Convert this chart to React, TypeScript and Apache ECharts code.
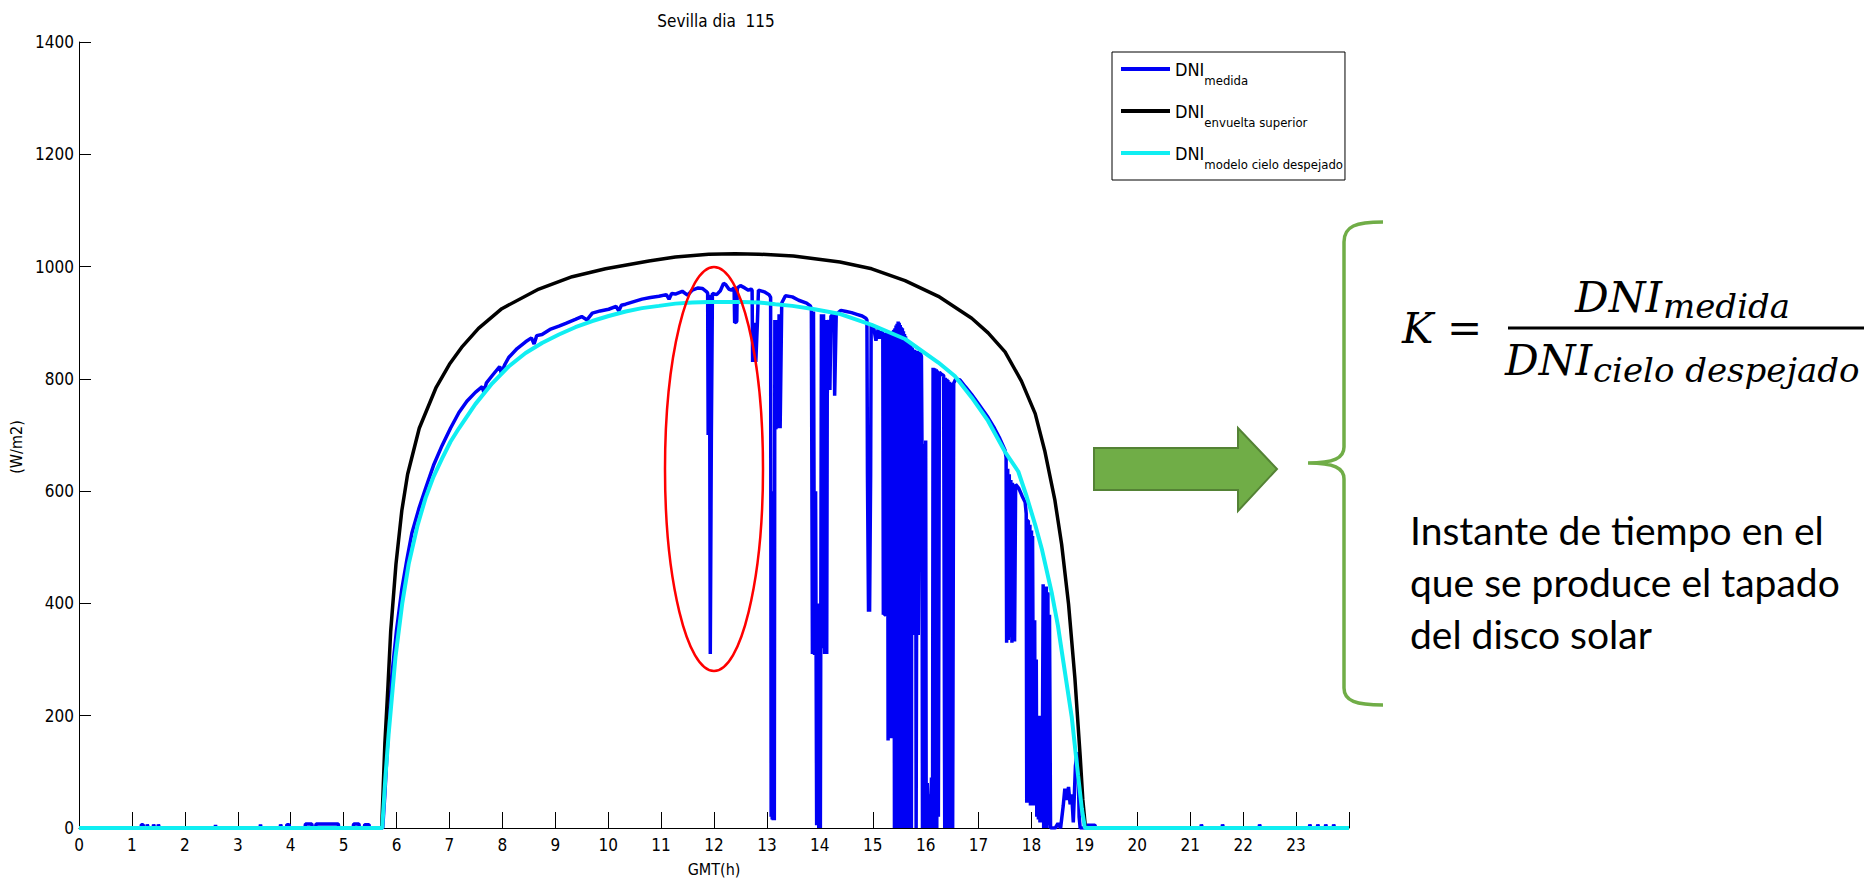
import React, { useEffect, useRef } from 'react';
import * as echarts from 'echarts';

const chartTitle = 'Sevilla dia  115';
const xAxisName = 'GMT(h)';
const yAxisName = '(W/m2)';
const xTickLabels = ['0','1','2','3','4','5','6','7','8','9','10','11','12','13','14','15','16','17','18','19','20','21','22','23'];
const seriesNames = ['DNI medida', 'DNI envuelta superior', 'DNI modelo cielo despejado'];
const legendMain = 'DNI';
const legendSubs = ['medida', 'envuelta superior', 'modelo cielo despejado'];
const noteLines = ['Instante de tiempo en el', 'que se produce el tapado', 'del disco solar'];

// measured DNI [hour, W/m2]
const dniMedida: [number, number][] = [
  [0, 0], [1.17, 0], [1.18, 6], [1.21, 6], [1.22, 0], [1.28, 0], [1.29, 6], [1.31, 0], [1.40, 0], [1.41, 6], [1.43, 0], [1.49, 0], [1.50, 6], [1.52, 0],
  [2.57, 0], [2.58, 5], [2.59, 0], [3.42, 0], [3.43, 6], [3.44, 0],
  [3.80, 0], [3.81, 6], [3.83, 0], [3.92, 0], [3.93, 6], [3.97, 6], [3.98, 0],
  [4.27, 0], [4.28, 7], [4.40, 7], [4.41, 0], [4.47, 0], [4.48, 7], [4.90, 7], [4.91, 0],
  [5.18, 0], [5.19, 7], [5.29, 7], [5.30, 0], [5.39, 0], [5.40, 6], [5.48, 6], [5.49, 0], [5.72, 0],
  [5.74, 0], [5.78, 60], [5.82, 131], [5.87, 210], [5.91, 270], [6.00, 352], [6.10, 425], [6.20, 480], [6.29, 525],
  [6.42, 568], [6.55, 605], [6.70, 646], [6.86, 681], [7.02, 712], [7.18, 740], [7.33, 760], [7.49, 776], [7.62, 786],
  [7.65, 776], [7.70, 793], [7.81, 806], [7.95, 822], [7.98, 810], [8.05, 826], [8.12, 838], [8.28, 854], [8.44, 866],
  [8.55, 873], [8.60, 862], [8.65, 877], [8.75, 879], [8.90, 888], [9.07, 894], [9.20, 899], [9.38, 906], [9.50, 911],
  [9.60, 905], [9.70, 917], [9.85, 921], [10.01, 924], [10.15, 929], [10.20, 921], [10.25, 931], [10.33, 933], [10.50, 938],
  [10.64, 942], [10.80, 945], [10.96, 947], [11.10, 950], [11.15, 942], [11.20, 952], [11.27, 951], [11.40, 956], [11.50, 949],
  [11.59, 958], [11.70, 962], [11.78, 961], [11.85, 956],
  [11.88, 953], [11.89, 700], [11.91, 950], [11.92, 705], [11.93, 310], [11.95, 700], [11.97, 952],
  [12.05, 950], [12.12, 957], [12.18, 970], [12.22, 968], [12.28, 960], [12.33, 958],
  [12.38, 962], [12.39, 900], [12.43, 902], [12.44, 962], [12.50, 966], [12.58, 962], [12.65, 958], [12.70, 960],
  [12.72, 958], [12.73, 830], [12.77, 900], [12.79, 830], [12.82, 900], [12.84, 958], [12.95, 955], [13.04, 950],
  [13.07, 945], [13.08, 20], [13.09, 600], [13.10, 15], [13.11, 450], [13.12, 14], [13.13, 500], [13.14, 14],
  [13.15, 905], [13.17, 710], [13.19, 905], [13.21, 712], [13.23, 915], [13.25, 712], [13.28, 935],
  [13.35, 948], [13.48, 946], [13.60, 940], [13.75, 935], [13.82, 930],
  [13.84, 925], [13.86, 310], [13.88, 920], [13.90, 308], [13.92, 600], [13.94, 5], [13.96, 400], [13.98, 0], [14.00, 300], [14.01, 0],
  [14.03, 915], [14.05, 320], [14.07, 915], [14.09, 310], [14.11, 905], [14.13, 310], [14.14, 770], [14.17, 905], [14.19, 780], [14.21, 912],
  [14.27, 915], [14.28, 770], [14.31, 915], [14.40, 922], [14.50, 920], [14.60, 918], [14.70, 915], [14.80, 912], [14.87, 908],
  [14.89, 905], [14.90, 630], [14.92, 385], [14.93, 630], [14.94, 385], [14.96, 630], [14.97, 895],
  [15.02, 890], [15.06, 868], [15.10, 888], [15.13, 872], [15.17, 885],
  [15.19, 880], [15.20, 380], [15.21, 870], [15.22, 380], [15.24, 380], [15.25, 882], [15.28, 878], [15.29, 156], [15.31, 870],
  [15.32, 160], [15.34, 880], [15.36, 160], [15.38, 884],
  [15.40, 885], [15.41, 0], [15.42, 890], [15.43, 0], [15.44, 895], [15.45, 0], [15.46, 898], [15.47, 0], [15.48, 902], [15.49, 0],
  [15.50, 900], [15.51, 0], [15.52, 896], [15.53, 0], [15.54, 892], [15.55, 0], [15.56, 890], [15.57, 5], [15.58, 885], [15.59, 0],
  [15.60, 880], [15.61, 0], [15.62, 876], [15.63, 0], [15.64, 870], [15.65, 0], [15.66, 868], [15.67, 0], [15.68, 865], [15.69, 0],
  [15.70, 862], [15.71, 0], [15.72, 860], [15.73, 0], [15.74, 855],
  [15.76, 850], [15.77, 344], [15.79, 852], [15.80, 344], [15.81, 850], [15.82, 0], [15.84, 850], [15.86, 344], [15.89, 848], [15.92, 840],
  [15.93, 684], [15.94, 0], [15.95, 684], [15.96, 0], [15.97, 684], [15.98, 0], [16.00, 690], [16.01, 0], [16.03, 80],
  [16.05, 0], [16.07, 60], [16.09, 0], [16.11, 90], [16.13, 0],
  [16.14, 820], [16.15, 0], [16.17, 819], [16.18, 0], [16.20, 817], [16.21, 0], [16.22, 815], [16.24, 20], [16.26, 812], [16.30, 808],
  [16.34, 806], [16.36, 0], [16.37, 802], [16.38, 0], [16.40, 800], [16.41, 0], [16.42, 798], [16.43, 0], [16.45, 795], [16.46, 0],
  [16.48, 793], [16.49, 0], [16.50, 790], [16.51, 0], [16.53, 792], [16.57, 800],
  [16.65, 798], [16.75, 786], [16.87, 772], [17.00, 755], [17.10, 742], [17.18, 731], [17.30, 712], [17.40, 694], [17.50, 673],
  [17.52, 660], [17.53, 330], [17.55, 640], [17.56, 335], [17.58, 630], [17.59, 340], [17.61, 620], [17.63, 330], [17.64, 615],
  [17.66, 332], [17.67, 612], [17.68, 332], [17.70, 612], [17.76, 605], [17.82, 592],
  [17.88, 580], [17.90, 560], [17.91, 45], [17.92, 550], [17.93, 45], [17.94, 548], [17.95, 45], [17.97, 540], [17.98, 40],
  [18.00, 530], [18.01, 40], [18.02, 520], [18.04, 45],
  [18.06, 370], [18.07, 40], [18.09, 300], [18.10, 20], [18.12, 200], [18.13, 15], [18.15, 190], [18.16, 10], [18.18, 200], [18.20, 10],
  [18.22, 434], [18.23, 0], [18.25, 430], [18.26, 0], [18.28, 430], [18.29, 0], [18.31, 420], [18.32, 5], [18.34, 380], [18.36, 0],
  [18.45, 0], [18.50, 8], [18.55, 0], [18.60, 40], [18.63, 70], [18.66, 50], [18.70, 73], [18.73, 42], [18.76, 60],
  [18.79, 10], [18.83, 110], [18.86, 135], [18.88, 120], [18.90, 20], [18.92, 0],
  [19.00, 0], [19.05, 5], [19.20, 5], [19.21, 0], [21.20, 0], [21.21, 6], [21.23, 0], [21.60, 0], [21.61, 6], [21.63, 0],
  [22.30, 0], [22.31, 6], [22.33, 0], [23.25, 0], [23.26, 6], [23.28, 0], [23.40, 0], [23.41, 6], [23.43, 0],
  [23.55, 0], [23.56, 6], [23.58, 0], [23.70, 0], [23.71, 6], [23.73, 0], [24, 0],
];

// upper envelope [hour, W/m2]
const dniEnvuelta: [number, number][] = [
  [0, 0], [5.72, 0], [5.75, 75], [5.78, 150], [5.84, 255], [5.89, 350], [5.99, 470], [6.10, 565], [6.21, 630],
  [6.43, 712], [6.75, 785], [7.00, 826], [7.23, 856], [7.55, 890], [7.99, 925], [8.69, 960], [9.32, 982], [9.95, 996],
  [10.77, 1010], [11.27, 1017], [11.90, 1022], [12.40, 1023], [12.85, 1022], [13.50, 1019], [14.38, 1008], [14.98, 996],
  [15.61, 975], [16.24, 947], [16.87, 908], [17.18, 882], [17.50, 848], [17.81, 796], [18.07, 738], [18.25, 672],
  [18.44, 585], [18.50, 548], [18.57, 505], [18.70, 399], [18.82, 267], [18.92, 128], [18.97, 50], [19.02, 0], [24, 0],
];

// clear sky model [hour, W/m2]
const dniModelo: [number, number][] = [
  [0, 0], [5.73, 0], [5.79, 90], [5.85, 166], [5.98, 304], [6.11, 401], [6.23, 470], [6.40, 540], [6.55, 588], [6.70, 626],
  [6.86, 658], [7.02, 688], [7.18, 712], [7.49, 755], [7.81, 792], [8.12, 822], [8.44, 846], [8.75, 864], [9.07, 879],
  [9.38, 892], [9.70, 903], [10.01, 912], [10.33, 920], [10.64, 926], [10.96, 930], [11.27, 934], [11.59, 936], [11.90, 937],
  [12.22, 937], [12.53, 937], [12.85, 936], [13.16, 933], [13.48, 930], [13.90, 924], [14.36, 916], [14.98, 896],
  [15.61, 871], [16.24, 829], [16.55, 805], [16.87, 767], [17.18, 725], [17.50, 670], [17.75, 635], [17.91, 590],
  [18.07, 540], [18.20, 495], [18.38, 420], [18.50, 360], [18.57, 316], [18.76, 198], [18.88, 94], [18.95, 35], [19.01, 0], [24, 0],
];

const bracePath = 'M1383,222 C1356,222 1344,226 1344,242 L1344,447 C1344,458 1334,463 1308,463 C1334,463 1344,468 1344,479 L1344,688 C1344,701 1356,705 1383,705';
echarts.graphic.registerShape('brace', echarts.graphic.extendPath(bracePath, {}));

const MFONT = "'Liberation Sans Narrow', 'DejaVu Sans Condensed', 'Liberation Sans', Arial, sans-serif";
const MATH = "'DejaVu Serif', serif";
const NOTE = "Lato, 'Open Sans', sans-serif";

export default function App() {
  const ref = useRef<HTMLDivElement>(null);
  useEffect(() => {
    if (!ref.current) return;
    const chart = echarts.init(ref.current, undefined, { renderer: 'svg' });
    const colors = ['#0000F5', '#000000', '#10EEF2'];
    const widths = [3.5, 3.5, 4];
    const datas = [dniMedida, dniEnvuelta, dniModelo];
    chart.setOption({
      animation: false,
      backgroundColor: '#ffffff',
      grid: { left: 79, top: 42, width: 1270, height: 786 },
      xAxis: {
        type: 'value', min: 0, max: 24, interval: 1,
        name: xAxisName, nameLocation: 'middle', nameGap: 33,
        nameTextStyle: { fontFamily: MFONT, fontSize: 16, color: '#000' },
        axisLine: { show: true, lineStyle: { color: '#000', width: 1 } },
        axisTick: { show: true, inside: true, length: 16, lineStyle: { color: '#000' } },
        axisLabel: { margin: 8, fontFamily: MFONT, fontSize: 17, color: '#000', formatter: (v: number) => xTickLabels[v] ?? '' },
        splitLine: { show: false },
      },
      yAxis: {
        type: 'value', min: 0, max: 1400, interval: 200,
        name: yAxisName, nameLocation: 'middle', nameGap: 43,
        nameTextStyle: { fontFamily: MFONT, fontSize: 16, color: '#000', padding: [0, 24, 0, 0] },
        axisLine: { show: true, lineStyle: { color: '#000', width: 1 } },
        axisTick: { show: true, inside: true, length: 12, lineStyle: { color: '#000' } },
        axisLabel: { margin: 5, fontFamily: MFONT, fontSize: 17, color: '#000', formatter: (v: number) => String(v) },
        splitLine: { show: false },
      },
      legend: {
        left: 1112, top: 52, orient: 'vertical', icon: 'rect',
        padding: [8, 2, 9, 9], itemGap: 15, itemWidth: 49, itemHeight: 4,
        borderColor: '#000', borderWidth: 1, backgroundColor: '#fff',
        data: seriesNames,
        formatter: (name: string) => `{a|${legendMain}}{b|${legendSubs[seriesNames.indexOf(name)]}}`,
        textStyle: {
          color: '#000', fontFamily: MFONT,
          rich: {
            a: { fontFamily: MFONT, fontSize: 18, lineHeight: 36, verticalAlign: 'middle', color: '#000' },
            b: { fontFamily: MFONT, fontSize: 13, lineHeight: 16, verticalAlign: 'bottom', color: '#000' },
          },
        },
      },
      series: datas.map((d, i) => ({
        name: seriesNames[i], type: 'line', data: d, symbol: 'none', showSymbol: false,
        lineStyle: { color: colors[i], width: widths[i] }, itemStyle: { color: colors[i] },
        clip: true, z: 2 + i,
      })),
      graphic: [
        { type: 'text', x: 716, y: 21, style: { text: chartTitle, fontFamily: MFONT, fontSize: 17, fill: '#000', textAlign: 'center', textVerticalAlign: 'middle' } },
        { type: 'ellipse', shape: { cx: 714, cy: 469, rx: 49, ry: 202 }, style: { fill: 'none', stroke: '#FF0000', lineWidth: 2.5 }, z: 100 },
        { type: 'polygon', shape: { points: [[1094, 448], [1238, 448], [1238, 428], [1277, 469], [1238, 511], [1238, 490], [1094, 490]] }, style: { fill: '#70AD47', stroke: '#548235', lineWidth: 2 } },
        { type: 'brace', x: 0, y: 0, style: { fill: 'none', stroke: '#70AD47', lineWidth: 3.5 } },
        { type: 'text', x: 1402, y: 328.5, style: { text: 'K', fontFamily: MATH, fontStyle: 'italic', fontSize: 42, fill: '#000', textAlign: 'left', textVerticalAlign: 'middle' } },
        { type: 'text', x: 1447, y: 328.5, style: { text: '=', fontFamily: MATH, fontSize: 42, fill: '#000', textAlign: 'left', textVerticalAlign: 'middle' } },
        { type: 'line', shape: { x1: 1508, y1: 328, x2: 1864, y2: 328 }, style: { stroke: '#000', lineWidth: 3 } },
        { type: 'text', x: 1662, y: 297.5, style: { text: 'DNI', fontFamily: MATH, fontStyle: 'italic', fontSize: 42, fill: '#000', textAlign: 'right', textVerticalAlign: 'middle' } },
        { type: 'text', x: 1663, y: 306, style: { text: 'medida', fontFamily: MATH, fontStyle: 'italic', fontSize: 34, fill: '#000', textAlign: 'left', textVerticalAlign: 'middle' } },
        { type: 'text', x: 1592, y: 360.5, style: { text: 'DNI', fontFamily: MATH, fontStyle: 'italic', fontSize: 42, fill: '#000', textAlign: 'right', textVerticalAlign: 'middle' } },
        { type: 'text', x: 1593, y: 370, style: { text: 'cielo despejado', fontFamily: MATH, fontStyle: 'italic', fontSize: 34, fill: '#000', textAlign: 'left', textVerticalAlign: 'middle' } },
        ...noteLines.map((t, i) => ({
          type: 'text', x: 1410, y: 530 + i * 52,
          style: { text: t, fontFamily: NOTE, fontSize: 39, fill: '#000', textAlign: 'left', textVerticalAlign: 'middle' },
        })),
      ],
    });
    return () => chart.dispose();
  }, []);
  return <div ref={ref} style={{ position: 'absolute', left: 0, top: 0, width: 1870, height: 887, background: '#fff' }} />;
}
